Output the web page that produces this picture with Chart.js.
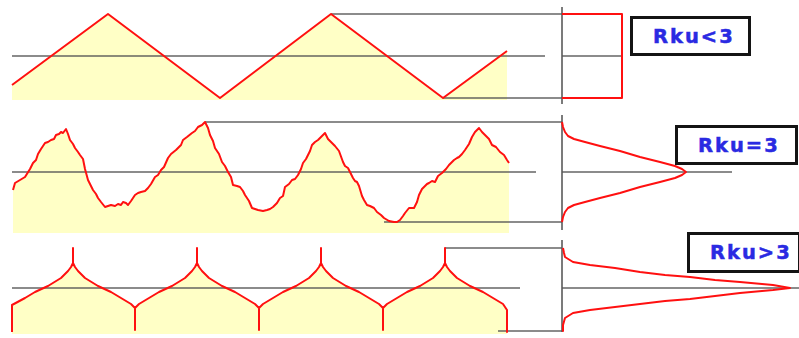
<!DOCTYPE html>
<html>
<head>
<meta charset="utf-8">
<title>Rku – kurtosis of the roughness profile</title>
<script src="https://cdn.jsdelivr.net/npm/chart.js@4/dist/chart.umd.min.js"></script>
<style>
  html, body { margin: 0; padding: 0; background: #ffffff; }
  #wrap { position: relative; width: 799px; height: 338px; overflow: hidden; }
  #plot { position: absolute; left: 0; top: 0; }
  .tag {
    position: absolute; box-sizing: border-box;
    border: 3px solid #141414; background: #ffffff;
    font-family: "DejaVu Sans", Verdana, sans-serif; font-weight: bold;
    font-size: 19.5px; letter-spacing: 2px; color: #2a2ae2;
    display: flex; align-items: center; padding-left: 20px;
    -webkit-text-stroke: 0.5px #2a2ae2;
  }
</style>
</head>
<body>
<div id="wrap">
  <canvas id="plot" width="799" height="338"></canvas>
  <div class="tag" style="left:630px; top:16px; width:121px; height:40px;">Rku&lt;3</div>
  <div class="tag" style="left:675px; top:125px; width:123px; height:40px;">Rku=3</div>
  <div class="tag" style="left:687px; top:232px; width:114px; height:41px;">Rku&gt;3</div>
</div>
<script>
// ---- Profile 1: triangular profile (Rku < 3) ----
const triX = [12, 108, 220, 331, 443, 507];
const triZ = [-29, 42, -42, 42, -42, 5];

// ---- Profile 2: random-like profile (Rku = 3) ----
const randX = [13, 15, 20, 25, 30, 33, 36, 38, 41, 45, 48, 51, 54, 56, 59, 61, 63, 66, 68, 70, 73, 75, 78, 80, 83, 85,
  88, 90, 93, 96, 98, 101, 105, 108, 111, 115, 118, 121, 123, 126, 128, 131, 135, 138, 141, 145, 148, 151, 155, 158,
  161, 164, 168, 171, 176, 178, 181, 183, 187, 192, 195, 198, 202, 205, 208, 210, 213, 215, 219, 222, 225, 228, 231,
  233, 237, 240, 243, 245, 249, 252, 255, 258, 263, 267, 270, 273, 277, 280, 283, 285, 289, 292, 295, 298, 301, 303,
  306, 308, 310, 312, 315, 318, 321, 325, 328, 331, 335, 339, 343, 345, 348, 350, 353, 355, 357, 359, 362, 364, 367,
  370, 374, 377, 381, 384, 389, 394, 397, 400, 403, 405, 409, 414, 417, 419, 422, 424, 427, 429, 432, 435, 438, 442,
  446, 449, 452, 454, 457, 459, 462, 465, 469, 472, 475, 479, 482, 485, 489, 492, 496, 500, 504, 507, 509];
const randZ = [-18, -11, -8, -5, 3, 9, 12, 18, 23, 29, 30, 32, 33, 37, 38, 40, 39, 43, 38, 32, 28, 24, 20, 17, 13, 3,
  -8, -12, -18, -22, -26, -30, -35, -34, -33, -34, -32, -33, -30, -31, -33, -29, -23, -21, -20, -19, -16, -12, -5, -3,
  2, 5, 14, 18, 22, 24, 27, 32, 35, 39, 41, 45, 47, 50, 44, 37, 31, 24, 18, 10, 6, 0, -5, -13, -14, -15, -19, -23, -29,
  -36, -37, -38, -39, -38, -37, -35, -31, -26, -24, -15, -12, -8, -7, -3, 3, 9, 13, 17, 21, 27, 30, 32, 35, 39, 33,
  30, 26, 21, 10, 6, 4, 0, -6, -9, -10, -14, -24, -28, -33, -34, -36, -40, -43, -46, -49, -50, -50, -48, -44, -41, -36,
  -36, -30, -23, -17, -15, -12, -11, -9, -10, -4, -1, 3, 7, 10, 12, 14, 15, 18, 22, 28, 35, 40, 44, 40, 37, 33, 27, 25,
  20, 17, 12, 9, 7, 4, -1];

// ---- Profile 3: spiky profile (Rku > 3) ----
const spikeX = [12, 12, 25, 35, 48, 61, 68, 71, 73, 73, 73, 75,
  78, 85, 98, 111, 121, 131, 135, 135, 135,
  139, 149, 159, 172, 185, 192, 195, 197, 197, 197, 199,
  202, 209, 222, 235, 245, 255, 259, 259, 259,
  263, 273, 283, 296, 309, 316, 319, 321, 321, 321, 323,
  326, 333, 346, 359, 369, 379, 383, 383, 383,
  387, 397, 407, 420, 433, 440, 443, 445, 445, 445, 447,
  450, 457, 470, 483, 493, 503, 507, 507];
const spikeZ = [-44, -17, -10, -4, 2, 10, 17, 21, 25, 40, 25, 21,
  17, 10, 2, -4, -10, -16, -20, -42, -20,
  -16, -10, -4, 2, 10, 17, 21, 25, 40, 25, 21,
  17, 10, 2, -4, -10, -16, -20, -42, -20,
  -16, -10, -4, 2, 10, 17, 21, 25, 40, 25, 21,
  17, 10, 2, -4, -10, -16, -20, -42, -20,
  -16, -10, -4, 2, 10, 17, 21, 25, 40, 25, 21,
  17, 10, 2, -4, -10, -16, -22, -44];

// ---- Amplitude distribution curves (height vs. density) ----
const distUniformX = [562, 622, 622, 562];
const distUniformZ = [42, 42, -42, -42];
const distNormalX = [562, 563, 565, 568, 574, 585, 600, 620, 640, 660, 675, 682, 686,
  682, 675, 660, 640, 620, 600, 585, 574, 568, 565, 563, 562];
const distNormalZ = [50, 45, 40, 36, 33, 30, 26, 21, 15, 10, 6, 3, 0,
  -3, -6, -10, -15, -21, -26, -30, -33, -36, -40, -45, -50];
const distSpikyX = [563, 564, 565, 573, 590, 615, 640, 665, 690, 715, 740, 773, 790,
  773, 740, 715, 690, 665, 640, 615, 590, 573, 565, 563, 563];
const distSpikyZ = [40, 35, 31, 26, 23, 20, 16, 13, 11, 8, 6, 3, 0,
  -2, -5, -8, -11, -13, -16, -19, -22, -25, -30, -37, -43];

// ---- Characteristic levels of each profile: peak, mean, valley ----
const peakLevels = [42, 50, 40];
const meanLevels = [0, 0, 0];
const valleyLevels = [-42, -50, -43];

const RED = 'rgb(255, 16, 16)';
const GREY = 'rgba(88, 88, 88, 0.92)';
const FILL = '#ffffc6';

const pts = (xs, zs) => xs.map((x, i) => ({ x, y: zs[i] }));
const seg = (x0, x1, z) => [{ x: x0, y: z }, { x: x1, y: z }];
const vseg = (x, z0, z1) => [{ x, y: z0 }, { x, y: z1 }];

const profile = (data, axis, base) => ({
  data, yAxisID: axis, borderColor: RED, borderWidth: 2,
  backgroundColor: FILL, fill: { value: base }, pointRadius: 0, tension: 0,
  borderJoinStyle: 'round'
});
const curve = (data, axis) => ({
  data, yAxisID: axis, borderColor: RED, borderWidth: 2, fill: false,
  pointRadius: 0, tension: 0, borderJoinStyle: 'round'
});
const guide = (data, axis) => ({
  data, yAxisID: axis, borderColor: GREY, borderWidth: 1.7, fill: false,
  pointRadius: 0, tension: 0
});

const datasets = [
  profile(pts(triX, triZ), 'yA', -44),
  profile(pts(randX, randZ), 'yB', -61),
  profile(pts(spikeX, spikeZ), 'yC', -46),
  curve(pts(distUniformX, distUniformZ), 'yA'),
  curve(pts(distNormalX, distNormalZ), 'yB'),
  curve(pts(distSpikyX, distSpikyZ), 'yC'),

  // panel A guides
  guide(seg(12, 545, meanLevels[0]), 'yA'),
  guide(seg(562, 622, meanLevels[0]), 'yA'),
  guide(seg(331, 562, peakLevels[0]), 'yA'),
  guide(seg(443, 562, valleyLevels[0]), 'yA'),
  guide(vseg(562, 49, -48), 'yA'),
  // panel B guides
  guide(seg(12, 536, meanLevels[1]), 'yB'),
  guide(seg(562, 732, meanLevels[1]), 'yB'),
  guide(seg(205, 562, peakLevels[1]), 'yB'),
  guide(seg(384, 562, valleyLevels[1]), 'yB'),
  guide(vseg(562, 57, -58), 'yB'),
  // panel C guides
  guide(seg(12, 520, meanLevels[2]), 'yC'),
  guide(seg(562, 799, meanLevels[2]), 'yC'),
  guide(seg(445, 562, peakLevels[2]), 'yC'),
  guide(seg(498, 562, valleyLevels[2]), 'yC'),
  guide(vseg(562, 48, -44), 'yC')
];

new Chart(document.getElementById('plot'), {
  type: 'line',
  data: { datasets },
  options: {
    responsive: false,
    animation: false,
    events: [],
    layout: { padding: 0 },
    plugins: {
      legend: { display: false },
      tooltip: { enabled: false },
      filler: { drawTime: 'beforeDatasetsDraw' }
    },
    scales: {
      x: { type: 'linear', min: 0, max: 799, display: false },
      yA: { type: 'linear', min: -282, max: 56, display: false },
      yB: { type: 'linear', min: -166, max: 172, display: false },
      yC: { type: 'linear', min: -50, max: 288, display: false }
    }
  }
});
</script>
</body>
</html>
